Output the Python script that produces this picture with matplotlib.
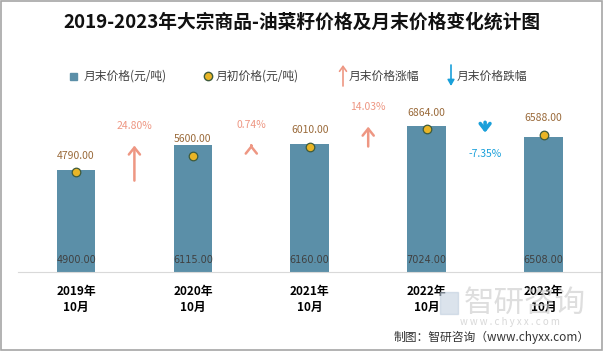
import matplotlib.pyplot as plt
from matplotlib.patches import Rectangle
from matplotlib.lines import Line2D

plt.rcParams['font.family'] = ['Noto Sans CJK SC', 'DejaVu Sans']

# 数据
years = ['2019年\n10月', '2020年\n10月', '2021年\n10月', '2022年\n10月', '2023年\n10月']
month_end = [4900, 6115, 6160, 7024, 6508]      # 月末价格(元/吨)
month_start = [4790, 5600, 6010, 6864, 6588]    # 月初价格(元/吨)
change_pct = [24.80, 0.74, 14.03, -7.35]        # 月末价格涨跌幅(%)

bar_color = '#5B8FA8'
dot_color = '#E9B526'
up_color = '#EE9783'
down_color = '#1AA0DA'
label_color = '#9A6A3A'

fig = plt.figure(figsize=(6.03, 3.51), dpi=100)
ax = fig.add_axes([17.5 / 603, 1 - 272 / 351, 584.5 / 603, 187 / 351])

x = range(len(years))
ax.bar(x, month_end, width=0.33, color=bar_color, zorder=2)
ax.scatter(x, month_start, s=38, color=dot_color, edgecolor='#3E5B3C', linewidth=0.9, zorder=4)

for i, v in enumerate(month_end):
    ax.text(i, 600, f'{v:.2f}', ha='center', va='center', fontsize=7, color='#404040',
            family=['Liberation Sans Narrow', 'DejaVu Sans'], zorder=5)
for i, v in enumerate(month_start):
    ax.annotate(f'{v:.2f}', (i, v), xytext=(0, 12), textcoords='offset points',
                ha='center', va='center', fontsize=7.5, color=label_color, zorder=5)

# 涨跌幅箭头
scale = 68
for i, p in enumerate(change_pct):
    xm = i + 0.5
    if p >= 0:
        head = month_end[i + 1] - 30
        tail = head - p * scale
        ax.annotate('', xy=(xm, head), xytext=(xm, tail),
                    arrowprops=dict(arrowstyle='->,head_length=0.5,head_width=0.4',
                                    color=up_color, lw=1.8, shrinkA=0, shrinkB=0))
        ax.annotate(f'{p:.2f}%', (xm, head), xytext=(0, 14), textcoords='offset points',
                    ha='center', va='center', fontsize=7.5, color=up_color)
    else:
        tail = month_end[i] + 180
        head = tail + p * scale
        ax.annotate('', xy=(xm, head), xytext=(xm, tail),
                    arrowprops=dict(arrowstyle='->,head_length=0.45,head_width=0.35',
                                    color=down_color, lw=2.6, shrinkA=0, shrinkB=0))
        ax.annotate(f'{p:.2f}%', (xm, head), xytext=(0, -15), textcoords='offset points',
                    ha='center', va='center', fontsize=7.5, color=down_color)

ax.set_xlim(-0.5, 4.5)
ax.set_ylim(0, 9000)
ax.set_yticks([])
ax.set_xticks(list(x))
ax.set_xticklabels(years, fontsize=8.5, fontweight='bold', linespacing=1.3)
ax.tick_params(axis='x', length=0, pad=9)
for s in ['top', 'right', 'left']:
    ax.spines[s].set_visible(False)
ax.spines['bottom'].set_color('#D9D9D9')

# 标题
fig.text(0.5, 1 - 22 / 351, '2019-2023年大宗商品-油菜籽价格及月末价格变化统计图',
         ha='center', va='center', fontsize=13.5, fontweight='bold', color='#111111')

# 图例
ly = 1 - 76 / 351
fig.add_artist(Rectangle((70 / 603, ly - 3.5 / 351), 7 / 603, 7 / 351,
                         transform=fig.transFigure, color=bar_color))
fig.text(84 / 603, ly, '月末价格(元/吨)', va='center', fontsize=8.5, color='#404040')
fig.add_artist(Line2D([208 / 603], [ly], marker='o', markersize=6, color=dot_color,
                      markeredgecolor='#3E5B3C', transform=fig.transFigure))
fig.text(216 / 603, ly, '月初价格(元/吨)', va='center', fontsize=8.5, color='#404040')
fig.add_artist(plt.Annotation('', xy=(343, 351 - 65), xytext=(343, 351 - 86),
                              xycoords='figure pixels', textcoords='figure pixels',
                              arrowprops=dict(arrowstyle='->,head_length=0.35,head_width=0.25',
                                              color=up_color, lw=1.2, shrinkA=0, shrinkB=0)))
fig.text(349 / 603, ly, '月末价格涨幅', va='center', fontsize=8.5, color='#404040')
fig.add_artist(plt.Annotation('', xy=(451, 351 - 86), xytext=(451, 351 - 65),
                              xycoords='figure pixels', textcoords='figure pixels',
                              arrowprops=dict(arrowstyle='-|>,head_length=0.35,head_width=0.2',
                                              color=down_color, lw=1.2, shrinkA=0, shrinkB=0)))
fig.text(457 / 603, ly, '月末价格跌幅', va='center', fontsize=8.5, color='#404040')

# 水印与来源
fig.text(525 / 603, 1 - 303 / 351, '智研咨询', ha='center', va='center', fontsize=22,
         color='#C8C8C8', alpha=0.6)
fig.text(510 / 603, 1 - 322 / 351, 'w w w . c h y x x . c o m', ha='center', va='center',
         fontsize=7, color='#C8C8C8', alpha=0.7)
fig.add_artist(Rectangle((440 / 603, 1 - 314 / 351), 18 / 603, 22 / 351,
                         transform=fig.transFigure, color='#B8C8DA', alpha=0.5))
fig.text(590 / 603, 1 - 337 / 351, '制图：智研咨询（www.chyxx.com）', ha='right', va='center',
         fontsize=8.5, color='#333333')

fig.add_artist(Rectangle((0.001, 0.002), 0.997, 0.996, transform=fig.transFigure,
                         fill=False, edgecolor='#A6A6A6', lw=1.2))

fig.savefig('out.png', dpi=100)
